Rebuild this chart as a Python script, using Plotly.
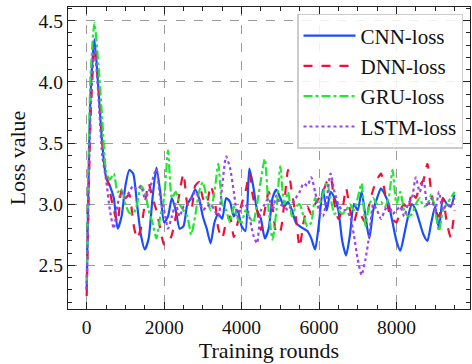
import plotly.graph_objects as go

rounds = list(range(0, 9600, 100))

cnn_loss = [2.30, 3.90, 4.35, 3.95, 3.50, 3.22, 3.15, 3.05, 2.80, 2.90,
            3.15, 3.28, 3.25, 3.00, 2.75, 2.63, 2.72, 3.05, 3.30, 3.10,
            2.85, 2.90, 3.05, 2.95, 2.80, 2.82, 3.00, 3.05, 3.12, 3.05,
            2.90, 2.80, 2.68, 2.85, 2.92, 2.88, 3.05, 3.02, 2.90, 2.95,
            2.82, 2.78, 3.29, 3.15, 2.95, 2.88, 2.72, 2.80, 3.05, 3.12,
            3.05, 2.98, 3.02, 2.95, 2.85, 2.82, 2.80, 2.78, 2.72, 2.63,
            2.85, 3.12, 2.95, 3.10, 3.05, 2.95, 2.70, 2.58, 2.75, 3.00,
            2.95, 3.10, 2.90, 2.72, 2.95, 3.05, 3.13, 3.08, 3.00, 2.85,
            2.70, 2.62, 2.75, 2.90, 3.00, 2.95, 2.85, 2.75, 2.70, 2.85,
            2.98, 2.80, 3.05, 3.00, 2.98, 3.08]

dnn_loss = [2.25, 3.70, 4.28, 4.00, 3.55, 3.25, 3.10, 2.95, 2.85, 3.12,
            3.05, 3.08, 2.85, 2.72, 2.80, 3.00, 3.17, 3.05, 2.95, 2.80,
            2.67, 2.68, 2.75, 2.90, 3.10, 3.25, 3.00, 2.95, 3.15, 3.18,
            3.05, 3.00, 3.15, 3.05, 2.80, 2.72, 2.85, 2.90, 2.73, 2.85,
            3.00, 3.10, 3.25, 3.05, 2.95, 2.79, 2.95, 3.10, 2.98, 2.76,
            2.78, 3.00, 3.28, 3.10, 2.90, 2.65, 2.85, 2.98, 2.92, 3.00,
            3.05, 3.10, 3.18, 3.22, 3.00, 2.88, 2.95, 3.13, 2.95, 2.85,
            2.95, 2.90, 2.85, 3.00, 3.12, 3.20, 3.25, 3.10, 2.95, 2.88,
            2.85, 2.95, 3.00, 2.95, 3.10, 3.05, 3.15, 3.20, 3.33, 3.10,
            2.95, 2.90, 3.05, 2.85, 2.73, 2.95]

gru_loss = [2.35, 4.05, 4.48, 4.15, 3.70, 3.27, 3.20, 3.25, 3.10, 3.12,
            3.00, 2.93, 2.92, 3.00, 3.15, 3.10, 2.95, 2.85, 2.72, 2.90,
            3.05, 3.44, 3.05, 3.10, 3.00, 2.95, 2.90, 2.75, 2.90, 3.10,
            3.18, 3.05, 2.95, 3.10, 3.33, 3.00, 2.95, 2.85, 2.98, 2.88,
            2.85, 2.95, 2.90, 2.85, 3.00, 3.20, 3.37, 2.95, 2.71, 2.95,
            3.31, 3.00, 3.10, 2.90, 2.98, 3.00, 2.90, 2.82, 2.85, 3.05,
            3.00, 3.08, 3.18, 3.05, 2.92, 2.95, 2.92, 2.95, 3.00, 2.95,
            3.05, 3.17, 2.82, 3.00, 3.05, 3.00, 3.02, 2.98, 3.05, 3.28,
            3.00, 3.10, 2.95, 2.90, 2.92, 3.00, 3.05, 2.98, 3.00, 3.08,
            2.95, 2.78, 2.95, 3.00, 3.05, 3.10]

lstm_loss = [2.30, 3.75, 4.28, 3.90, 3.40, 3.20, 2.95, 2.80, 3.00, 3.10,
             3.05, 3.10, 3.15, 3.12, 3.15, 3.05, 3.10, 3.20, 3.29, 3.05,
             2.95, 2.80, 2.90, 3.00, 2.90, 2.98, 3.00, 3.05, 3.10, 3.05,
             2.95, 2.98, 3.00, 2.95, 2.90, 3.15, 3.39, 3.30, 3.10, 2.90,
             2.98, 3.00, 2.90, 2.75, 2.68, 2.95, 3.00, 3.05, 2.95, 3.07,
             3.00, 2.98, 2.95, 3.00, 3.05, 3.10, 3.17, 3.15, 3.22, 3.10,
             2.95, 2.90, 3.05, 3.25, 3.10, 3.00, 2.95, 2.95, 2.90, 2.75,
             2.55, 2.42, 2.55, 2.75, 3.00, 2.95, 2.88, 2.95, 3.00, 2.92,
             2.95, 2.98, 2.90, 3.00, 3.05, 3.22, 3.10, 3.20, 2.98, 3.05,
             2.95, 3.10, 2.95, 3.00, 2.98, 3.05]

series_names = ["CNN-loss", "DNN-loss", "GRU-loss", "LSTM-loss"]
series_vals = [cnn_loss, dnn_loss, gru_loss, lstm_loss]
colors = ["#1a4dff", "#ee1133", "#22e633", "#9944ee"]
dashes = ["solid", "dash", "dashdot", "dot"]

FONT = "Liberation Serif"

fig = go.Figure()
for name, vals, c, d in zip(series_names, series_vals, colors, dashes):
    fig.add_trace(go.Scatter(
        x=rounds, y=vals, name=name, mode="lines",
        line=dict(color=c, width=2.2, dash=d, shape="spline", smoothing=0.6),
    ))

axis_common = dict(
    showline=True, linecolor="#222", linewidth=1.3, mirror="allticks",
    ticks="inside", ticklen=7, tickwidth=1, tickcolor="#222",
    showgrid=True, gridcolor="#9a9a9a", griddash="dash", gridwidth=1,
    zeroline=False,
    tickfont=dict(family=FONT, size=19.5, color="#111"),
)

fig.update_xaxes(
    **axis_common,
    range=[-483, 9900], tickvals=[0, 2000, 4000, 6000, 8000],
    minor=dict(dtick=500, tick0=0, ticks="inside", ticklen=4, tickcolor="#222", showgrid=False),
    title=dict(text="Training rounds", font=dict(family=FONT, size=22, color="#111"), standoff=4),
)
fig.update_yaxes(
    **axis_common,
    range=[2.143, 4.612], tickvals=[2.5, 3.0, 3.5, 4.0, 4.5], ticktext=["2.5", "3.0", "3.5", "4.0", "4.5"],
    minor=dict(dtick=0.1, tick0=0, ticks="inside", ticklen=4, tickcolor="#222", showgrid=False),
    title=dict(text="Loss value", font=dict(family=FONT, size=22, color="#111"), standoff=6),
)

fig.update_layout(
    width=472, height=364,
    margin=dict(l=68, r=2, t=7, b=55),
    paper_bgcolor="white", plot_bgcolor="white",
    showlegend=True,
    legend=dict(
        x=0.9826, y=0.977, xanchor="right", yanchor="top",
        bgcolor="rgba(255,255,255,0.85)", bordercolor="#cccccc", borderwidth=1.5,
        font=dict(family=FONT, size=21, color="#111"),
        tracegroupgap=0, itemwidth=52,
    ),
)

fig.write_html("out.html")
